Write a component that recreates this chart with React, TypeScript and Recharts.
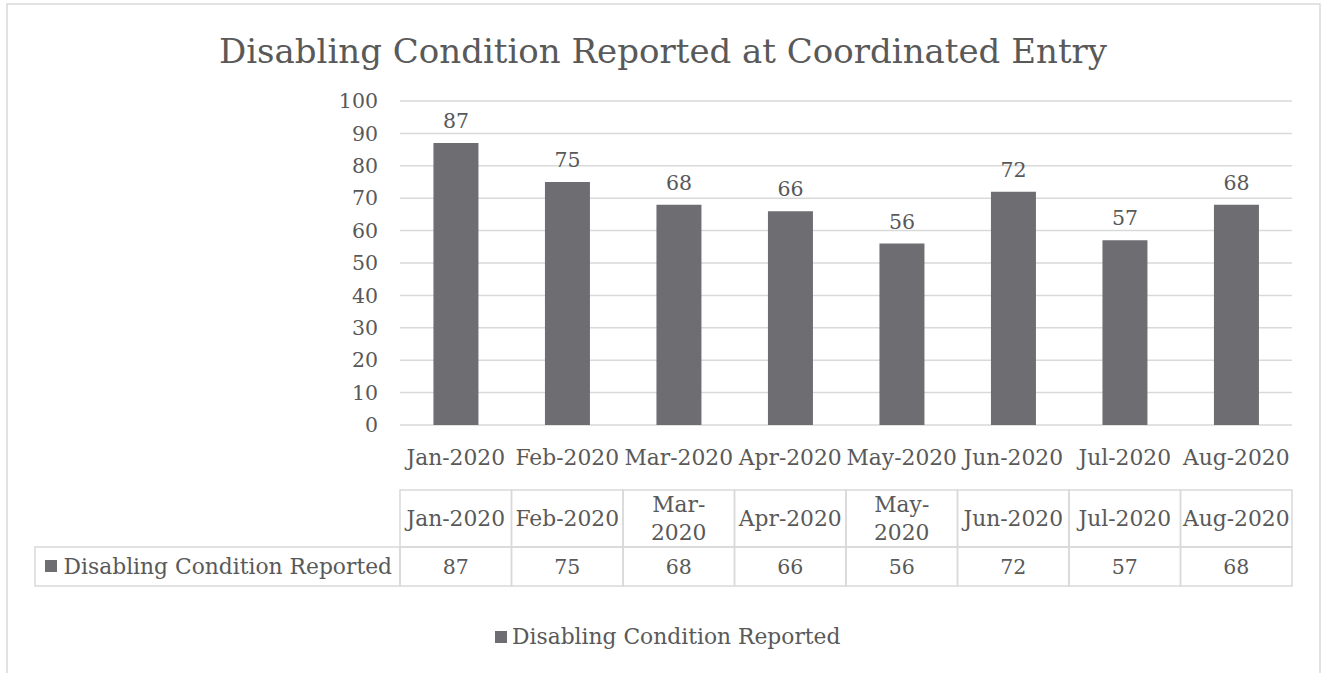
import React from 'react';
import { BarChart, Bar, XAxis, YAxis, CartesianGrid, LabelList, Customized } from 'recharts';

const title = 'Disabling Condition Reported at Coordinated Entry';
const seriesName = 'Disabling Condition Reported';
const months = ['Jan-2020', 'Feb-2020', 'Mar-2020', 'Apr-2020', 'May-2020', 'Jun-2020', 'Jul-2020', 'Aug-2020'];
const tableHeaders = [['Jan-2020'], ['Feb-2020'], ['Mar-', '2020'], ['Apr-2020'], ['May-', '2020'], ['Jun-2020'], ['Jul-2020'], ['Aug-2020']];
const values = [87, 75, 68, 66, 56, 72, 57, 68];
const yTicks = [0, 10, 20, 30, 40, 50, 60, 70, 80, 90, 100];

const data = months.map((m, i) => ({ month: m, value: values[i] }));

const W = 1325;
const H = 673;
const PLOT_LEFT = 400;
const PLOT_RIGHT = 1292;
const PLOT_TOP = 101;
const PLOT_BOTTOM = 425;
const BAND = (PLOT_RIGHT - PLOT_LEFT) / months.length;
const FONT = '"DejaVu Serif", serif';
const TEXT = '#595959';
const BAR = '#6e6d72';
const GRID = '#d9d9d9';
const FS = 20.5;
const FSW = 21.8;

const TABLE_TOP = 490;
const TABLE_MID = 547;
const TABLE_BOT = 586;
const ROW_HEAD_LEFT = 35;

const XTick = (props: any) => {
  const { x, index, payload } = props;
  const lines = tableHeaders[index] || [payload.value];
  const left = x - BAND / 2;
  return (
    <g>
      <text x={x} y={PLOT_BOTTOM + 40} textAnchor="middle" fill={TEXT} fontSize={FSW} fontFamily={FONT}>
        {payload.value}
      </text>
      <rect x={left} y={TABLE_TOP} width={BAND} height={TABLE_MID - TABLE_TOP} fill="none" stroke={GRID} strokeWidth={1.5} />
      <rect x={left} y={TABLE_MID} width={BAND} height={TABLE_BOT - TABLE_MID} fill="none" stroke={GRID} strokeWidth={1.5} />
      {lines.length === 1 ? (
        <text x={x} y={TABLE_TOP + 36} textAnchor="middle" fill={TEXT} fontSize={FSW} fontFamily={FONT}>{lines[0]}</text>
      ) : (
        lines.map((l: string, j: number) => (
          <text key={j} x={x} y={TABLE_TOP + 22 + j * 28} textAnchor="middle" fill={TEXT} fontSize={FSW} fontFamily={FONT}>{l}</text>
        ))
      )}
      <text x={x} y={TABLE_MID + 27} textAnchor="middle" fill={TEXT} fontSize={FS} fontFamily={FONT}>{values[index]}</text>
      {index === 0 && (
        <g>
          <rect x={ROW_HEAD_LEFT} y={TABLE_MID} width={left - ROW_HEAD_LEFT} height={TABLE_BOT - TABLE_MID} fill="none" stroke={GRID} strokeWidth={1.5} />
          <rect x={45} y={TABLE_MID + 13} width={12} height={12} fill={BAR} />
          <text x={left - 8} y={TABLE_MID + 27} textAnchor="end" fill={TEXT} fontSize={FSW} fontFamily={FONT}>{seriesName}</text>
        </g>
      )}
    </g>
  );
};

const TopLabel = (props: any) => {
  const { x, y, width, value } = props;
  return (
    <text x={x + width / 2} y={y - 15} textAnchor="middle" fill={TEXT} fontSize={FS} fontFamily={FONT}>{value}</text>
  );
};

const Decor = () => (
  <g>
    <rect x={7} y={4} width={1313} height={720} fill="none" stroke={GRID} strokeWidth={1.5} />
    <text x={663} y={63} textAnchor="middle" fill={TEXT} fontSize={34} fontFamily={FONT}>{title}</text>
    <rect x={495} y={631} width={12} height={12} fill={BAR} />
    <text x={512} y={644} textAnchor="start" fill={TEXT} fontSize={FSW} fontFamily={FONT}>{seriesName}</text>
  </g>
);

export default function App() {
  return (
    <div style={{ position: 'absolute', left: 0, top: 0, width: W, height: H, background: '#fff' }}>
      <BarChart
        width={W}
        height={H}
        data={data}
        margin={{ top: PLOT_TOP, right: W - PLOT_RIGHT, left: 0, bottom: 0 }}
        barCategoryGap="30%"
      >
        <Customized component={Decor} />
        <CartesianGrid vertical={false} stroke={GRID} strokeWidth={1.5} />
        <YAxis
          width={PLOT_LEFT}
          domain={[0, 100]}
          ticks={yTicks}
          interval={0}
          axisLine={false}
          tickLine={false}
          tickMargin={16}
          tick={{ fill: TEXT, fontSize: FS, fontFamily: FONT }}
        />
        <XAxis
          dataKey="month"
          height={H - PLOT_BOTTOM}
          axisLine={false}
          tickLine={false}
          interval={0}
          tick={<XTick />}
        />
        <Bar dataKey="value" name={seriesName} fill={BAR} isAnimationActive={false}>
          <LabelList dataKey="value" content={<TopLabel />} />
        </Bar>
      </BarChart>
    </div>
  );
}
